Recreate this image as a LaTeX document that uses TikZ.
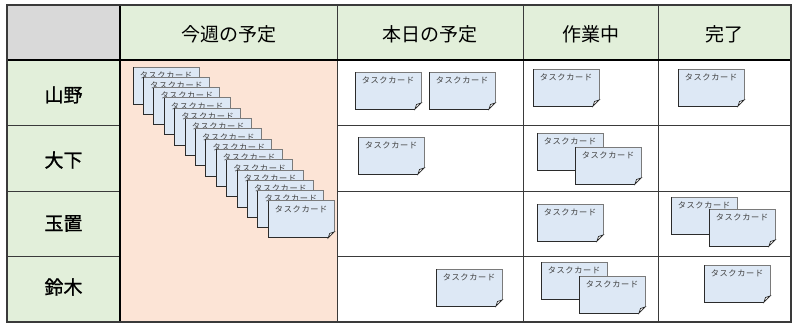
\documentclass[tikz,border=0pt]{standalone}
\usepackage{fontspec}
\setmainfont{Noto Sans CJK JP}
\newfontfamily\cjkfont{Noto Sans CJK JP}
\newfontfamily\namefontfam[FakeBold=1.2]{Noto Sans CJK JP}
\newfontfamily\cardfontfam[LetterSpace=8]{Noto Sans CJK JP}
\definecolor{hdrgray}{HTML}{D9D9D9}
\definecolor{hdrgreen}{HTML}{E2EFDA}
\definecolor{peach}{HTML}{FCE4D6}
\definecolor{cardfill}{HTML}{DDE8F5}
\definecolor{carddark}{HTML}{2B2B2B}
\definecolor{cardlight}{HTML}{7A7A7A}
\definecolor{cardtxt}{HTML}{404040}
\definecolor{gridc}{HTML}{3A3A3A}
\tikzset{
  hdrtext/.style={font=\cjkfont\fontsize{19}{21}\selectfont, text=black, inner sep=0},
  nametext/.style={font=\namefontfam\fontsize{19}{21}\selectfont, text=black, inner sep=0},
  cardbox/.style={minimum width=66pt, minimum height=37pt, inner sep=0, outer sep=0, anchor=north west},
  cardtext/.style={font=\cardfontfam\fontsize{8.2}{9}\selectfont, text=cardtxt, inner sep=0, anchor=north},
  carddk/.style={draw=carddark, line width=0.9pt},
  cardlt/.style={draw=cardlight, line width=0.9pt},
  thinline/.style={draw=gridc, line width=1pt},
  thickline/.style={draw=black, line width=2.4pt},
}
\newcommand\taskcard[3]{%
  \node[cardbox] (#1) at (#2,#3) {};
  \fill[cardfill] (#1.north west) -- (#1.north east) -- ([yshift=6pt]#1.south east)
     -- ([xshift=-6pt]#1.south east) -- (#1.south west) -- cycle;
  \draw[cardlt] (#1.north west) -- (#1.north east) -- ([yshift=6pt]#1.south east);
  \draw[carddk] (#1.north west) -- (#1.south west) -- ([xshift=-6pt]#1.south east);
  \draw[carddk, fill=white, line width=0.7pt] ([yshift=6pt]#1.south east) -- ([xshift=-6pt]#1.south east)
     -- ([xshift=-4.5pt,yshift=4.5pt]#1.south east) -- cycle;
  \node[cardtext] (#1t) at ([yshift=-4.5pt]#1.north) {タスクカード};
}
\begin{document}
\begin{tikzpicture}[x=1pt,y=-1pt]
\useasboundingbox (0,0) rectangle (800,330);
\fill[white] (0,0) rectangle (800,330);
% cell fills
\fill[hdrgray] (7,5) rectangle (120,60);
\fill[hdrgreen] (120,5) rectangle (791,60);
\fill[hdrgreen] (7,60) rectangle (120,322);
\fill[peach] (120,60) rectangle (337,322);
% grid
\draw[thinline] (337,5) -- (337,322);
\draw[thinline] (523,5) -- (523,322);
\draw[thinline] (658,5) -- (658,322);
\foreach \yy in {125,191,256} {
  \draw[thinline] (7,\yy) -- (120,\yy);
  \draw[thinline] (337,\yy) -- (791,\yy);
}
\draw[thickline] (7,60) -- (791,60);
\draw[thickline] (120,5) -- (120,322);
\draw[draw=gridc, line width=1.6pt] (7,5) rectangle (791,322);
% headers
\node[hdrtext] (h1) at (228.5,34) {今週の予定};
\node[hdrtext] (h2) at (430,34) {本日の予定};
\node[hdrtext] (h3) at (590.5,34) {作業中};
\node[hdrtext] (h4) at (724.5,34) {完了};
\node[nametext] (n1) at (63.5,95) {山野};
\node[nametext] (n2) at (63.5,160) {大下};
\node[nametext] (n3) at (63.5,223.5) {玉置};
\node[nametext] (n4) at (63.5,287) {鈴木};
% weekly stack
\foreach \i in {0,...,13} {
  \taskcard{w\i}{133+10.4*\i}{67+10.3*\i}
}
% row 1
\taskcard{a1}{355}{72}
\taskcard{a2}{429}{72}
\taskcard{a3}{533}{69}
\taskcard{a4}{678}{69}
% row 2
\taskcard{b1}{358}{137}
\taskcard{b2}{537}{133}
\taskcard{b3}{575}{147}
% row 3
\taskcard{c1}{537}{204}
\taskcard{c2}{671}{197}
\taskcard{c3}{709}{209}
% row 4
\taskcard{d1}{436}{269}
\taskcard{d2}{541}{262}
\taskcard{d3}{579}{276}
\taskcard{d4}{704}{265}
\end{tikzpicture}
\end{document}
